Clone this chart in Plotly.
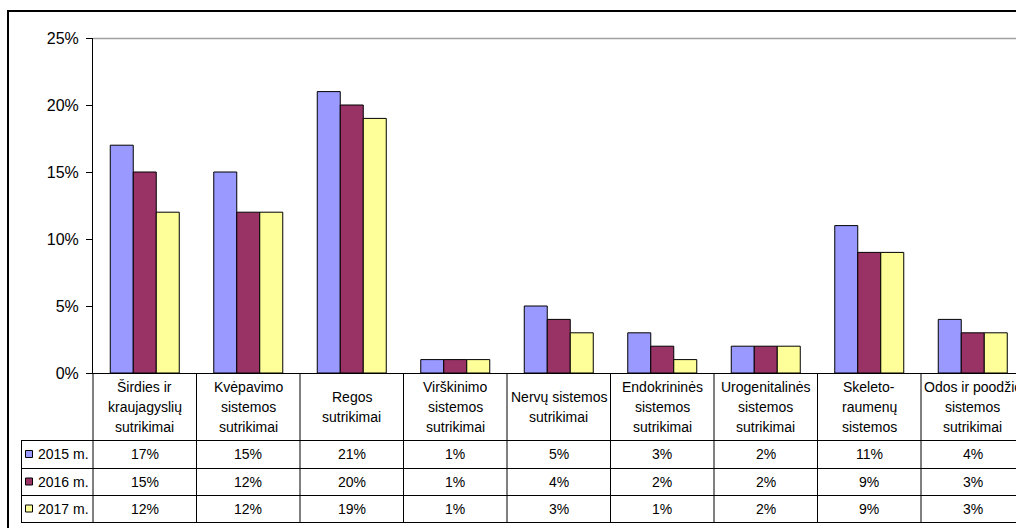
import plotly.graph_objects as go

# ---- data ----
categories = [
    "Širdies ir<br>kraujagyslių<br>sutrikimai",
    "Kvėpavimo<br>sistemos<br>sutrikimai",
    "Regos<br>sutrikimai",
    "Virškinimo<br>sistemos<br>sutrikimai",
    "Nervų sistemos<br>sutrikimai",
    "Endokrininės<br>sistemos<br>sutrikimai",
    "Urogenitalinės<br>sistemos<br>sutrikimai",
    "Skeleto-<br>raumenų<br>sistemos",
    "Odos ir poodžio<br>sistemos<br>sutrikimai",
]
years = ["2015 m.", "2016 m.", "2017 m."]
values_2015 = [17, 15, 21, 1, 5, 3, 2, 11, 4]
values_2016 = [15, 12, 20, 1, 4, 2, 2, 9, 3]
values_2017 = [12, 12, 19, 1, 3, 1, 2, 9, 3]
y_ticks = [0, 5, 10, 15, 20, 25]
y_tick_labels = [f"{t}%" for t in y_ticks]

series = [values_2015, values_2016, values_2017]
colors = ["#9999FF", "#993366", "#FFFF99"]

FONT = "Arial, Liberation Sans, sans-serif"

# ---- page geometry (pixels) ----
W, H = 1016, 528
plot_left, plot_top, plot_bottom = 93, 38, 373
col_w = 103.5
header_bottom = 440
row_lines = [440, 468, 495, 522]
legend_left = 21
header_line_gap = 20


def px(x):
    return x / W


def py(y):
    return 1 - y / H


n = len(categories)
idx = list(range(n))

fig = go.Figure()
for name, vals, col in zip(years, series, colors):
    fig.add_trace(go.Bar(
        x=idx, y=vals, name=name,
        marker=dict(color=col, line=dict(color="black", width=1)),
        showlegend=False,
    ))

shapes = []
annotations = []
line_style = dict(color="black", width=1)

# outer chart frame (left and top edges)
shapes.append(dict(type="line", xref="paper", yref="paper",
                   x0=px(8), x1=px(W + 20), y0=py(11), y1=py(11),
                   line=dict(color="black", width=2)))
shapes.append(dict(type="line", xref="paper", yref="paper",
                   x0=px(8), x1=px(8), y0=py(10), y1=py(H + 10),
                   line=dict(color="black", width=2)))

# plot-area top border
shapes.append(dict(type="line", xref="paper", yref="paper",
                   x0=px(plot_left), x1=px(W + 20),
                   y0=py(plot_top + 0.5), y1=py(plot_top + 0.5),
                   line=dict(color="#A0A0A0", width=1.5)))

# data table: horizontal rules
for yy in row_lines:
    shapes.append(dict(type="line", xref="paper", yref="paper",
                       x0=px(legend_left), x1=px(W + 20),
                       y0=py(yy + 0.5), y1=py(yy + 0.5), line=line_style))

# data table: vertical rules
for i in range(n + 1):
    xx = plot_left + i * col_w
    shapes.append(dict(type="line", xref="paper", yref="paper",
                       x0=px(xx), x1=px(xx),
                       y0=py(plot_bottom), y1=py(row_lines[-1] + 0.5),
                       line=line_style))
shapes.append(dict(type="line", xref="paper", yref="paper",
                   x0=px(legend_left + 0.5), x1=px(legend_left + 0.5),
                   y0=py(header_bottom), y1=py(row_lines[-1] + 0.5),
                   line=line_style))

# category labels in the table header, one annotation per text line
header_mid = (plot_bottom + header_bottom) / 2 + 0.5
for i, cat in enumerate(categories):
    lines = cat.split("<br>")
    first = header_mid - (len(lines) - 1) * header_line_gap / 2
    for k, ln in enumerate(lines):
        annotations.append(dict(
            x=px(plot_left + (i + 0.5) * col_w), y=py(first + k * header_line_gap),
            xref="paper", yref="paper", text=ln, showarrow=False,
            xanchor="center", yanchor="middle", align="center",
            font=dict(family=FONT, size=14, color="black"),
        ))

# series rows: legend key + values
for r, (name, vals, col) in enumerate(zip(years, series, colors)):
    top, bot = row_lines[r], row_lines[r + 1]
    yc = (top + bot) / 2
    shapes.append(dict(type="rect", xref="paper", yref="paper",
                       x0=px(25.5), x1=px(32.5), y0=py(yc - 3.5), y1=py(yc + 3.5),
                       fillcolor=col, line=dict(color="black", width=1)))
    annotations.append(dict(
        x=px(36), y=py(yc), xref="paper", yref="paper", text=name,
        showarrow=False, xanchor="left", yanchor="middle",
        font=dict(family=FONT, size=14, color="black"),
    ))
    for i, v in enumerate(vals):
        annotations.append(dict(
            x=px(plot_left + (i + 0.5) * col_w), y=py(yc),
            xref="paper", yref="paper", text=f"{v}%", showarrow=False,
            xanchor="center", yanchor="middle",
            font=dict(family=FONT, size=14, color="black"),
        ))

fig.update_layout(
    width=W, height=H, autosize=False,
    margin=dict(l=0, r=0, t=0, b=0, pad=0, autoexpand=False),
    paper_bgcolor="white", plot_bgcolor="white",
    barmode="group", bargap=1 / 3, bargroupgap=0,
    shapes=shapes, annotations=annotations,
    font=dict(family=FONT, color="black"),
    xaxis=dict(
        domain=[px(plot_left), 1], automargin=False,
        range=[-0.5, -0.5 + (W - plot_left) / col_w],
        showticklabels=False, ticks="", showgrid=False, zeroline=False,
        showline=True, linecolor="black", linewidth=1,
    ),
    yaxis=dict(
        domain=[py(plot_bottom), py(plot_top)], automargin=False,
        range=[0, 25], tickmode="array", tickvals=y_ticks, ticktext=y_tick_labels,
        ticks="outside", ticklen=6, tickcolor="black", tickwidth=1,
        ticklabelstandoff=4,
        showgrid=False, zeroline=False,
        showline=True, linecolor="black", linewidth=1,
        tickfont=dict(family=FONT, size=16, color="black"),
    ),
)

fig.write_html("out.html")
